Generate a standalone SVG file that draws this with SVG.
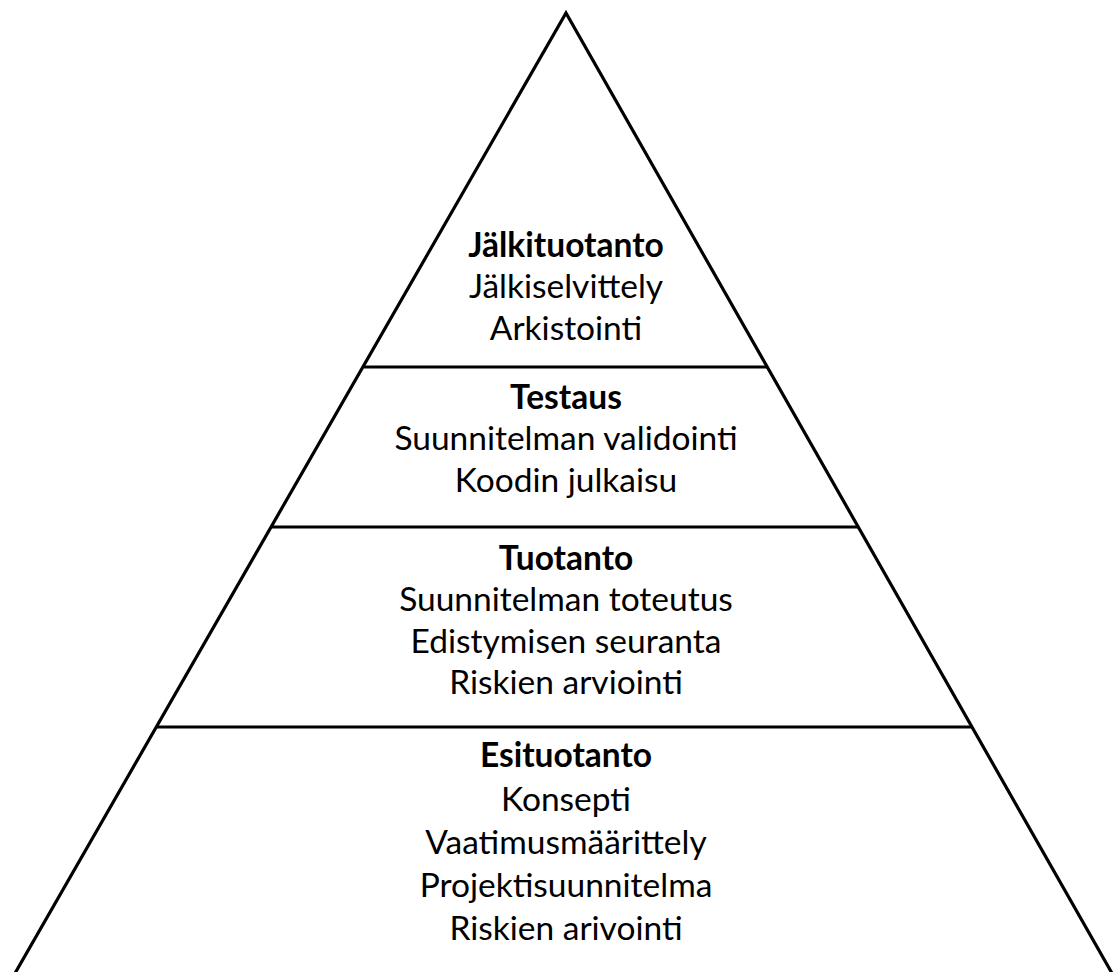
<svg xmlns="http://www.w3.org/2000/svg" width="1120" height="972" viewBox="0 0 1120 972">
<style>
.ln{stroke:#000;stroke-width:3.2;fill:none}
text{font-family:Lato,"Open Sans",sans-serif;font-size:33.5px;fill:#000;text-anchor:middle}
.h{font-weight:bold}
</style>
<rect width="1120" height="972" fill="#fff"/>
<g id="connectors">
<polyline class="ln" points="14,975 566,13 1113,975"/>
<line class="ln" x1="364" y1="367" x2="767" y2="367"/>
<line class="ln" x1="271" y1="527" x2="858" y2="527"/>
<line class="ln" x1="157" y1="727" x2="973" y2="727"/>
</g>
<g id="jalkituotanto">
<text class="h" x="566" y="257">Jälkituotanto</text>
<text x="566" y="298">Jälkiselvittely</text>
<text x="566" y="340">Arkistointi</text>
</g>
<g id="testaus">
<text class="h" x="566" y="409">Testaus</text>
<text x="566" y="450">Suunnitelman validointi</text>
<text x="566" y="492">Koodin julkaisu</text>
</g>
<g id="tuotanto">
<text class="h" x="566" y="570">Tuotanto</text>
<text x="566" y="611">Suunnitelman toteutus</text>
<text x="566" y="653">Edistymisen seuranta</text>
<text x="566" y="694">Riskien arviointi</text>
</g>
<g id="esituotanto">
<text class="h" x="566" y="767">Esituotanto</text>
<text x="566" y="811">Konsepti</text>
<text x="566" y="854">Vaatimusmäärittely</text>
<text x="566" y="897">Projektisuunnitelma</text>
<text x="566" y="940">Riskien arivointi</text>
</g>
</svg>
